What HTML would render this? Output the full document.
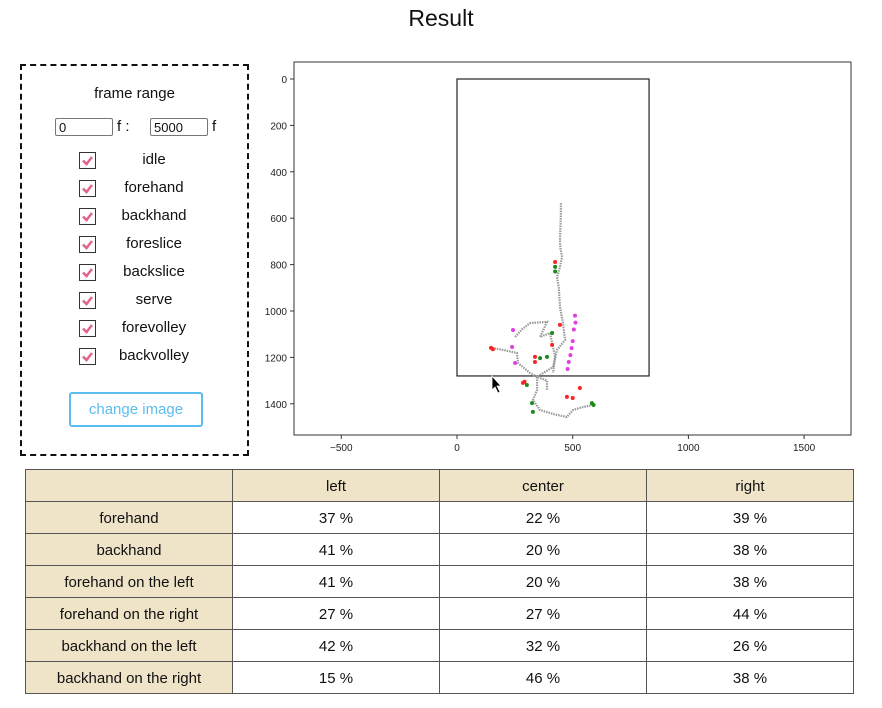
<!DOCTYPE html>
<html><head><meta charset="utf-8"><style>
body{margin:0;width:882px;height:708px;background:#fff;font-family:"Liberation Sans","DejaVu Sans",sans-serif;position:relative;overflow:hidden;color:#111}
.abs{position:absolute}
h1{position:absolute;left:0;width:882px;top:5px;margin:0;text-align:center;font-size:23px;font-weight:normal}
#panel{left:20px;top:64px;width:225px;height:388px;border:2px dashed #111}
.inp{position:absolute;height:18px;border:1px solid #777;border-radius:2px;font-size:13px;line-height:18px;padding-left:3px;box-sizing:border-box}
.cb{position:absolute;left:57px;width:17px;height:17px;border:1px solid #333;box-sizing:border-box}
.cb svg{position:absolute;left:1px;top:1px}
.lbl{position:absolute;left:80px;width:104px;text-align:center;font-size:15px;line-height:17px}
#btn{left:47px;top:326px;width:134px;height:35px;border:2px solid #5bbcf0;border-radius:3px;box-sizing:border-box;color:#5bbcf0;text-align:center;line-height:31px;font-size:15px}
table{position:absolute;left:25px;top:469px;border-collapse:collapse;font-size:15px}
td{border:1px solid #555;height:29px;padding:0;padding-top:2px;text-align:center;width:206px}
td.h{background:#efe3c8}
</style></head><body>
<h1>Result</h1>
<div id="panel" class="abs">
 <div class="abs" style="left:0;width:225px;top:19px;text-align:center;font-size:15px">frame range</div>
 <div class="inp" style="left:33px;top:52px;width:58px">0</div>
 <div class="abs" style="left:95px;top:52px;font-size:15px">f :</div>
 <div class="inp" style="left:128px;top:52px;width:58px">5000</div>
 <div class="abs" style="left:190px;top:52px;font-size:15px">f</div>
 <div id="cbs"></div>
 <div id="btn" class="abs">change image</div>
</div>
<svg class="abs" style="left:0;top:0" width="882" height="465" id="chart"></svg>
<table>
<tr><td class="h"></td><td class="h">left</td><td class="h">center</td><td class="h">right</td></tr>
<tr><td class="h">forehand</td><td>37 %</td><td>22 %</td><td>39 %</td></tr>
<tr><td class="h">backhand</td><td>41 %</td><td>20 %</td><td>38 %</td></tr>
<tr><td class="h">forehand on the left</td><td>41 %</td><td>20 %</td><td>38 %</td></tr>
<tr><td class="h">forehand on the right</td><td>27 %</td><td>27 %</td><td>44 %</td></tr>
<tr><td class="h">backhand on the left</td><td>42 %</td><td>32 %</td><td>26 %</td></tr>
<tr><td class="h">backhand on the right</td><td>15 %</td><td>46 %</td><td>38 %</td></tr>
</table>
<script>
const labels=["idle","forehand","backhand","foreslice","backslice","serve","forevolley","backvolley"];
const cbs=document.getElementById('cbs');
labels.forEach((l,i)=>{
 const y=86+i*28;
 const c=document.createElement('div');c.className='cb';c.style.top=y+'px';
 
 
 c.innerHTML='<svg width="13" height="13"><path d="M2 6.5 L5.5 10 L11 3" stroke="#e0668a" stroke-width="2.6" fill="none"/></svg>';
 cbs.appendChild(c);
 const t=document.createElement('div');t.className='lbl';t.style.top=(y-1)+'px';t.textContent=l;
 
 
 cbs.appendChild(t);
});
const xTicks=[-500,0,500,1000,1500];
const yTicks=[0,200,400,600,800,1000,1200,1400];
const court=[0,0,830,1280];
const grayPath1=[[449,535],[449,560],[449,580],[445,694],[447,730],[454,767],[445,810],[432,853],[440,900],[445,983],[452,1020],[458,1052],[467,1125],[432,1168],[415,1241],[346,1284],[346,1340],[328,1384],[359,1427],[420,1445],[475,1457],[501,1427],[540,1415],[588,1405]];
const grayPath2=[[151,1159],[210,1170],[259,1181],[264,1224],[315,1267],[346,1284],[389,1300],[389,1340]];
const grayPath3=[[251,1112],[280,1080],[315,1052],[389,1047],[359,1112],[402,1095],[424,1198],[415,1267]];
const redPts=[[424,789],[445,1060],[411,1146],[147,1159],[155,1165],[337,1198],[337,1220],[285,1310],[292,1305],[475,1370],[500,1375],[531,1332]];
const greenPts=[[424,810],[424,830],[411,1095],[359,1203],[389,1198],[302,1319],[324,1397],[328,1435],[583,1397],[590,1405]];
const magentaPts=[[510,1020],[512,1050],[505,1080],[500,1130],[495,1160],[490,1190],[483,1220],[478,1250],[242,1082],[238,1155],[251,1224]];
const svg=document.getElementById('chart');const NS='http://www.w3.org/2000/svg';
const L=294,R=851,T=62,B=435;
const sx=v=>457+v*0.2314, sy=v=>79+v*0.232;
function mk(tag,attrs,name){const e=document.createElementNS(NS,tag);for(const k in attrs)e.setAttribute(k,attrs[k]);
 
 
 svg.appendChild(e);return e;}
mk('rect',{x:L,y:T,width:R-L,height:B-T,fill:'#fff',stroke:'#333','stroke-width':1},'plot-frame');
xTicks.forEach(t=>{const x=sx(t);mk('line',{x1:x,x2:x,y1:B,y2:B+4,stroke:'#333'},'x-tick');
 const tx=mk('text',{x:x,y:B+16,'font-size':10,'text-anchor':'middle',fill:'#222'},'x-tick-label');tx.textContent=t<0?'\u2212'+(-t):t;});
yTicks.forEach(t=>{const y=sy(t);mk('line',{x1:L-4,x2:L,y1:y,y2:y,stroke:'#333'},'y-tick');
 const tx=mk('text',{x:L-7,y:y+4,'font-size':10,'text-anchor':'end',fill:'#222'},'y-tick-label');tx.textContent=t;});
mk('rect',{x:sx(court[0]),y:sy(court[1]),width:sx(court[2])-sx(court[0]),height:sy(court[3])-sy(court[1]),fill:'none',stroke:'#222','stroke-width':1.2},'court-rectangle');
[grayPath1,grayPath2,grayPath3].forEach(p=>{mk('polyline',{points:p.map(d=>sx(d[0])+','+sy(d[1])).join(' '),fill:'none',stroke:'#999','stroke-width':2.2,'stroke-dasharray':'1.5 1'},'idle-trajectory');});
function pts(arr,col,name){arr.forEach(d=>{mk('circle',{cx:sx(d[0]),cy:sy(d[1]),r:2,fill:col},name);});}
pts(redPts,'#f22','forehand-point');pts(greenPts,'#1a8a1a','backhand-point');pts(magentaPts,'#e040e0','serve-point');
mk('path',{d:'M492 376 L492 390 L495 387 L498 393 L500 392 L497 386 L501 386 Z',fill:'#000',stroke:'#fff','stroke-width':0.8},'mouse-cursor');
</script>
</body></html>
